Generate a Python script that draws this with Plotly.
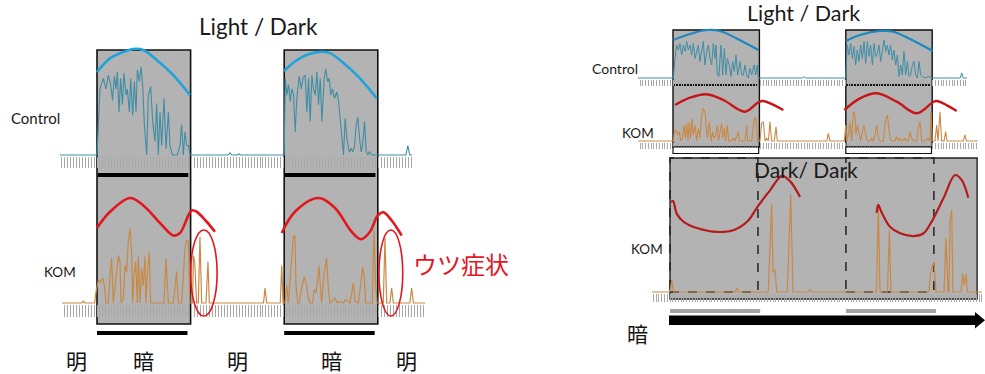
import plotly.graph_objects as go

W, H = 985, 374

# ---------------- data (hours since lights-off, activity in arbitrary units) ----------------
DARK_PERIODS = [(0, 12), (24, 36)]
DD_SPAN = (0, 41.9)

# Left panel, Control activity, dark period 1 and 2
CTRL_L_T1 = [0, 0.38, 0.81, 1.15, 1.45, 1.75, 2.0, 2.22, 2.44, 2.6, 2.82, 3.03, 3.25, 3.46, 3.72, 3.89, 4.15, 4.32, 4.57, 4.79,
             5.0, 5.17, 5.43, 5.64, 5.85, 6.07, 6.37, 6.58, 6.88, 7.14, 7.44, 7.65, 7.86, 8.08, 8.29, 8.59, 8.85, 9.15, 9.36, 9.66,
             10.0, 10.3, 10.64, 10.85, 11.07, 11.28, 11.5, 11.71, 11.92]
CTRL_L_V1 = [0, 63, 73, 63, 76, 67, 52, 75, 63, 79, 41, 73, 48, 78, 57, 63, 41, 73, 38, 70,
             41, 81, 70, 84, 67, 29, 0, 57, 65, 32, 13, 49, 0, 41, 9, 54, 6, 41, 9, 0,
             0, 0, 9, 29, 0, 22, 9, 9, 0]
CTRL_L_T2 = [24.0, 24.13, 24.34, 24.56, 24.77, 24.98, 25.2, 25.41, 25.62, 25.92, 26.18, 26.39, 26.69, 26.91, 27.12, 27.33, 27.55,
             27.76, 27.97, 28.19, 28.4, 28.62, 28.83, 29.13, 29.34, 29.56, 29.77, 29.98, 30.2, 30.45, 30.75, 30.97, 31.18, 31.39,
             31.6, 31.82, 32.03, 32.33, 32.59, 32.8, 33.02, 33.23, 33.44, 33.66, 33.87, 34.04, 34.3, 34.51, 34.73, 34.94, 35.24,
             35.67, 36.05]
CTRL_L_V2 = [0, 73, 57, 67, 51, 63, 57, 22, 54, 75, 63, 73, 76, 41, 73, 32, 76,
             63, 57, 79, 48, 73, 32, 73, 82, 70, 73, 57, 63, 54, 60, 51, 32, 16,
             0, 35, 16, 3, 6, 3, 9, 29, 36, 16, 3, 9, 32, 3, 0, 3, 0,
             0, 0]
CTRL_L_T_LIGHT = [16.8, 17.05, 17.3, 18.0, 18.2, 18.4, 39.6, 39.85, 40.1]
CTRL_L_V_LIGHT = [0, 2, 0, 0, 1, 0, 0, 9, 0]

# Left panel, KOM activity
KOM_L_T1 = [-1.95, -1.75, -1.55, -0.3, -0.13, 0.17, 0.47, 0.73, 0.94, 1.15, 1.45, 1.67, 1.88, 2.09, 2.31, 2.52, 2.74, 2.95,
            3.08, 3.38, 3.59, 3.8, 4.02, 4.23, 4.44, 4.57, 4.74, 4.96, 5.17, 5.3, 5.51, 5.73, 5.94, 6.15, 6.28, 6.45, 6.71,
            6.88, 8.59, 8.85, 9.15, 9.79, 10.0, 10.21, 10.43, 10.85, 11.07, 11.28, 11.5, 11.71, 11.92,
            12.26, 12.35, 12.52, 12.78, 12.99, 13.2, 13.42, 13.97, 14.23, 14.4]
KOM_L_V1 = [0, 1.5, 0, 0, 9, 18, 17, 20, 14, 0, 0, 22, 36, 0, 12, 25, 38, 33,
            0, 4, 30, 25, 49, 60, 41, 0, 22, 33, 0, 38, 0, 28, 14, 37, 0, 22, 41,
            0, 0, 36, 0, 0, 14, 25, 0, 0, 22, 44, 50, 49, 0,
            0, 38, 33, 0, 0, 53, 0, 0, 33, 0]
KOM_L_T2 = [21.35, 21.54, 21.75, 23.5, 23.68, 23.85, 24.1, 24.32, 24.53, 24.74, 24.96, 25.17, 25.38, 25.51, 25.73, 25.94,
            26.24, 26.58, 26.88, 27.09, 27.31, 27.61, 27.86, 28.08, 28.25, 28.46, 28.59, 28.8, 29.1, 29.32, 29.44, 29.66,
            29.87, 30.17, 30.51, 30.85, 31.15, 31.58, 31.88, 32.44, 32.65, 32.86, 33.08, 33.5, 33.85, 34.06, 34.27, 34.44,
            35.3, 35.51, 35.73, 35.9, 36.7, 36.92, 37.14, 37.56, 37.78, 37.99, 40.1, 40.34, 40.56]
KOM_L_V2 = [0, 12, 0, 0, 30, 0, 0, 14, 0, 17, 36, 53, 54, 14, 0, 0,
            12, 21, 14, 4, 0, 0, 11, 8, 17, 30, 17, 0, 22, 33, 36, 12,
            0, 1.3, 4, 0, 1.3, 0, 2.7, 0, 9, 16, 1.3, 0, 17, 29, 20, 0,
            0, 58, 14, 0, 0, 52, 0, 0, 12, 0, 0, 12, 0]

# Left panel, fitted rhythm curves (schematic)
BLUE_L_T1 = [0, 1.67, 3.37, 4.65, 5.94, 7.65, 9.78, 11.92]
BLUE_L_V1 = [79, 92, 98, 101, 100, 90.5, 76, 57]
BLUE_L_T2 = [23.97, 25.38, 27.09, 28.81, 29.87, 31.37, 33.5, 35.86]
BLUE_L_V2 = [80, 89, 96, 98.4, 97, 89, 74.6, 54]
RED_L_T1 = [0, 1.67, 4.23, 5.94, 8.08, 9.78, 10.64, 11.71, 12.14, 12.78, 14.06, 15.13]
RED_L_V1 = [60, 73, 84, 78, 64, 54, 56, 70, 74, 73, 65, 57]
RED_L_T2 = [23.68, 25.38, 28.37, 30.51, 32.65, 33.85, 35.0, 35.99, 36.71, 37.78, 39.06]
RED_L_V2 = [56, 73, 84, 76, 57, 51, 57, 70, 72.6, 66, 54]

# Right panel (LD), Control activity
CTRL_R_T1 = [0.05, 0.28, 0.51, 0.74, 0.97, 1.2, 1.44, 1.67, 1.9, 2.13, 2.36, 2.59, 2.82, 3.06, 3.29, 3.52, 3.75, 3.98, 4.21,
             4.44, 4.68, 4.91, 5.14, 5.37, 5.6, 5.83, 5.97, 6.16, 6.39, 6.53, 6.67, 6.9, 7.13, 7.36, 7.55, 7.82, 8.06, 8.29,
             8.52, 8.75, 8.98, 9.31, 9.54, 9.77, 10.0, 10.23, 10.46, 10.69, 10.93, 11.25, 11.48, 11.71, 11.85]
CTRL_R_V1 = [0, 39, 66, 56, 69, 46, 66, 53, 73, 56, 66, 46, 69, 39, 53, 66, 33, 56, 73,
             26, 53, 66, 39, 26, 69, 39, 66, 6, 3, 39, 66, 6, 59, 6, 39, 26, 3, 33,
             13, 46, 6, 33, 6, 6, 26, 6, 0, 19, 6, 26, 6, 26, 0]
CTRL_R_T2 = [23.98, 24.2, 24.44, 24.68, 24.91, 25.14, 25.37, 25.6, 25.83, 26.06, 26.3, 26.53, 26.76, 26.99, 27.22, 27.45,
             27.69, 27.92, 28.15, 28.38, 28.61, 28.84, 29.07, 29.31, 29.54, 29.77, 30.0, 30.23, 30.46, 30.69, 30.93, 31.16,
             31.39, 31.62, 31.85, 32.08, 32.31, 32.55, 32.78, 33.01, 33.24, 33.47, 33.7, 33.94, 34.17, 34.4, 34.63, 35.0,
             35.46, 36.06]
CTRL_R_V2 = [0, 66, 46, 69, 39, 63, 26, 56, 33, 66, 39, 73, 29, 73, 43, 66,
             26, 69, 43, 49, 66, 33, 59, 76, 53, 66, 46, 66, 36, 56, 26, 46,
             3, 26, 6, 53, 6, 33, 3, 6, 26, 33, 6, 0, 33, 6, 3, 0,
             3, 0]
CTRL_R_T_LIGHT = [18.0, 18.2, 18.4, 39.9, 40.1, 40.3]
CTRL_R_V_LIGHT = [0, 3, 0, 0, 10, 0]

# Right panel (LD), KOM activity
KOM_R_T1 = [0.05, 0.19, 0.42, 0.65, 0.88, 1.06, 1.3, 1.53, 1.71, 1.9, 2.08, 2.27, 2.45, 2.64, 2.82, 3.06, 3.29, 3.52, 3.75,
            3.98, 4.21, 4.44, 4.58, 4.77, 5.05, 5.28, 5.51, 5.69, 5.93, 6.16, 6.3, 6.53, 6.76, 6.9, 7.13, 7.31, 7.55, 7.73,
            8.15, 8.38, 8.61, 9.07, 9.21, 10.0, 10.23, 10.37, 10.93, 11.16, 11.39, 11.53, 11.71, 11.85, 12.08, 12.31, 12.55,
            12.78, 13.01, 13.24, 13.47, 13.7, 14.07, 14.31, 14.49]
KOM_R_V1 = [0, 17, 20, 11, 17, 0, 5, 29, 5, 32, 0, 35, 5, 41, 11, 29, 0, 23, 5,
            47, 59, 53, 29, 5, 35, 0, 17, 5, 11, 29, 0, 17, 32, 5, 23, 0, 29, 0,
            0, 5, 0, 17, 0, 0, 29, 0, 0, 29, 44, 38, 0, 0, 0, 32, 35,
            0, 5, 0, 35, 0, 0, 26, 0]
KOM_R_T2 = [21.35, 21.57, 21.8, 23.8, 23.98, 24.1, 24.35, 24.58, 24.81, 25.05, 25.28, 25.42, 25.6, 25.83, 26.06, 26.3, 26.53,
            26.76, 26.99, 27.36, 27.59, 27.82, 28.06, 28.29, 28.52, 28.75, 29.21, 29.44, 29.58, 29.77, 29.95, 30.14, 30.37,
            30.83, 31.06, 31.3, 31.53, 31.76, 32.22, 32.45, 32.69, 32.92, 33.15, 33.38, 33.84, 34.07, 34.31, 34.54, 35.0,
            35.46, 35.69, 35.83, 36.02, 36.39, 36.62, 36.81, 37.08, 37.31, 37.64, 37.87, 38.06, 40.32, 40.56, 40.74]
KOM_R_V2 = [0, 14, 0, 0, 29, 0, 11, 35, 0, 53, 47, 11, 29, 11, 0, 17, 29,
            11, 0, 0, 5, 0, 11, 29, 5, 0, 0, 29, 41, 47, 29, 5, 0,
            0, 8, 0, 5, 0, 5, 0, 0, 17, 5, 0, 0, 23, 35, 0, 0,
            5, 0, 53, 0, 0, 29, 0, 53, 0, 0, 17, 0, 0, 11, 0]

BLUE_R_T1 = [0.04, 1.9, 4.68, 6.53, 8.85, 11.85]
BLUE_R_V1 = [76, 86, 96, 94, 79, 56]
BLUE_R_T2 = [23.99, 25.97, 28.75, 30.6, 32.92, 36.07]
BLUE_R_V2 = [74, 86, 94, 92.6, 78, 54]
RED_R_T1 = [0.28, 2.36, 4.68, 6.99, 10.0, 11.85, 12.54, 15.32]
RED_R_V1 = [65.5, 78.7, 84.9, 74.5, 53.3, 70.4, 72.7, 56.4]
RED_R_T2 = [23.79, 25.97, 28.29, 31.07, 33.85, 36.07, 36.63, 39.4]
RED_R_V2 = [56.4, 77.6, 86.7, 71.5, 50.4, 70.4, 72.7, 54.5]

# Right panel (DD), KOM activity and rhythm
KOM_DD_T = [-2.46, 0.0, 0.23, 0.5, 8.9, 9.1, 9.3, 13.4, 13.87, 14.05, 14.32, 14.56, 16.0, 16.47, 16.78, 18.9, 19.1, 19.3,
            28.17, 28.42, 28.65, 29.67, 29.92, 30.15, 35.33, 35.47, 35.7, 36.0, 36.29, 37.38, 37.65, 37.93, 38.05, 38.2,
            38.43, 38.6, 39.7, 39.93, 40.15, 40.38, 40.58, 42.6]
KOM_DD_V = [0, 0, 9, 0, 0, 3, 0, 0, 67, 15, 17, 0, 0, 74, 0, 0, 2, 0,
            0, 66, 0, 0, 47, 0, 0, 11, 18, 23, 0, 0, 41, 0, 0, 54,
            62, 0, 0, 14, 5, 14, 0, 0]
RED_DD_T1 = [0.14, 0.41, 0.95, 1.91, 3.68, 6.41, 8.73, 10.64, 12.0, 13.64, 15.28, 16.37, 17.74]
RED_DD_V1 = [68, 69, 59, 53, 48.5, 45.5, 47, 54, 65, 77, 88, 84, 72]
RED_DD_T2 = [28.2, 28.4, 28.9, 30.0, 31.4, 33.2, 34.6, 35.7, 37.3, 38.9, 39.8, 40.7]
RED_DD_V2 = [60, 66, 60, 49.5, 44.5, 42.4, 44.5, 53.3, 71, 88.6, 84.8, 71.4]

LD_LABELS = ["明", "暗", "明", "暗", "明"]
LD_LABEL_T = [-2.6, 6, 18, 30, 39.7]

# ---------------- styling ----------------
GRAY = "#b3b3b3"
TEAL = "#3f8ea6"
BLUE_L, BLUE_R = "#1fa3dc", "#1c88c0"
RED_L, RED_R, RED_DD = "#e3171e", "#c8151a", "#b51a1d"
ORANGE = "#c98945"
TICK = "#a8a8a8"
LATIN = "Lato, 'Open Sans', sans-serif"
CJK = "'Noto Sans CJK JP', sans-serif"


def px_x(px):
    return px / W


def px_y(py):
    return 1 - py / H


def xaxis(left, right, t0, pxh, ticklen):
    return dict(domain=[left / W, right / W], range=[(left - t0) / pxh, (right - t0) / pxh],
                showgrid=False, zeroline=False, showline=False, showticklabels=False,
                ticks="outside", ticklen=ticklen, tickwidth=1, tickcolor=TICK, tick0=0, dtick=0.38,
                fixedrange=True)


def yaxis(top, base, unit):
    return dict(domain=[1 - (base + 1) / H, 1 - top / H], range=[-1 / unit, (base - top) / unit],
                visible=False, fixedrange=True)


fig = go.Figure()


def line(t, v, xa, ya, color, width, spline=False):
    fig.add_trace(go.Scatter(x=t, y=v, xaxis=xa, yaxis=ya, mode="lines", hoverinfo="skip",
                             line=dict(color=color, width=width, shape="spline" if spline else "linear",
                                       smoothing=1.0)))


# Left panel
xl = xaxis(60, 412, 97, 7.8, 11)
line([xl["range"][0]] + CTRL_L_T1 + CTRL_L_T_LIGHT[:6] + CTRL_L_T2 + CTRL_L_T_LIGHT[6:] + [xl["range"][1]],
     [0] + CTRL_L_V1 + CTRL_L_V_LIGHT[:6] + CTRL_L_V2 + CTRL_L_V_LIGHT[6:] + [0], "x", "y", TEAL, 1.1)
line(BLUE_L_T1, BLUE_L_V1, "x", "y", BLUE_L, 2.6, True)
line(BLUE_L_T2, BLUE_L_V2, "x", "y", BLUE_L, 2.6, True)

xk = xaxis(62, 425, 97, 7.8, 12)
line([xk["range"][0]] + KOM_L_T1 + KOM_L_T2 + [xk["range"][1]], [0] + KOM_L_V1 + KOM_L_V2 + [0],
     "x2", "y2", ORANGE, 1.2)
line(RED_L_T1, RED_L_V1, "x2", "y2", RED_L, 2.6, True)
line(RED_L_T2, RED_L_V2, "x2", "y2", RED_L, 2.6, True)

# Right panel LD
xr = xaxis(638, 967, 673, 7.2, 6)
line([xr["range"][0]] + CTRL_R_T1 + CTRL_R_T_LIGHT[:3] + CTRL_R_T2 + CTRL_R_T_LIGHT[3:] + [xr["range"][1]],
     [0] + CTRL_R_V1 + CTRL_R_V_LIGHT[:3] + CTRL_R_V2 + CTRL_R_V_LIGHT[3:] + [0], "x3", "y3", TEAL, 1.0)
line(BLUE_R_T1, BLUE_R_V1, "x3", "y3", BLUE_R, 2.2, True)
line(BLUE_R_T2, BLUE_R_V2, "x3", "y3", BLUE_R, 2.2, True)

xrk = xaxis(638, 978, 673, 7.2, 6)
line([xrk["range"][0]] + KOM_R_T1 + KOM_R_T2 + [xrk["range"][1]], [0] + KOM_R_V1 + KOM_R_V2 + [0],
     "x4", "y4", ORANGE, 1.1)
line(RED_R_T1, RED_R_V1, "x4", "y4", RED_R, 2.4, True)
line(RED_R_T2, RED_R_V2, "x4", "y4", RED_R, 2.4, True)

# Right panel DD
xd = xaxis(652, 982, 670, 7.33, 8)
line(KOM_DD_T, KOM_DD_V, "x5", "y5", ORANGE, 1.2)
line(RED_DD_T1, RED_DD_V1, "x5", "y5", RED_DD, 2.2, True)
line(RED_DD_T2, RED_DD_V2, "x5", "y5", RED_DD, 2.2, True)

shapes = []
# Left dark boxes, separators and bars
for a, b in DARK_PERIODS:
    shapes.append(dict(type="rect", xref="x", yref="paper", x0=a, x1=b, y0=px_y(324), y1=px_y(50),
                       fillcolor=GRAY, line=dict(color="#111", width=1.6), layer="below"))
    shapes.append(dict(type="rect", xref="x", yref="paper", x0=a + 0.1, x1=b - 0.3, y0=px_y(177), y1=px_y(173),
                       fillcolor="#000", line=dict(width=0), layer="below"))
    shapes.append(dict(type="rect", xref="x", yref="paper", x0=a, x1=b - 0.4, y0=px_y(335), y1=px_y(331),
                       fillcolor="#000", line=dict(width=0)))
# Right LD dark boxes
for a, b in DARK_PERIODS:
    shapes.append(dict(type="rect", xref="x3", yref="paper", x0=a, x1=b, y0=px_y(147), y1=px_y(30),
                       fillcolor=GRAY, line=dict(color="#111", width=1.4), layer="below"))
    shapes.append(dict(type="line", xref="x3", yref="paper", x0=a, x1=b - 0.2, y0=px_y(85), y1=px_y(85),
                       line=dict(color="#111", width=2), layer="below"))
    shapes.append(dict(type="rect", xref="x3", yref="paper", x0=a, x1=b - 0.1, y0=px_y(153.5), y1=px_y(147),
                       fillcolor="#fff", line=dict(color="#111", width=1.2)))
# DD box
shapes.append(dict(type="rect", xref="x5", yref="paper", x0=DD_SPAN[0], x1=DD_SPAN[1], y0=px_y(299), y1=px_y(158),
                   fillcolor=GRAY, line=dict(color="#222", width=1.4), layer="below"))
for a, b in DARK_PERIODS:
    shapes.append(dict(type="rect", xref="x5", yref="paper", x0=a, x1=b, y0=px_y(292), y1=px_y(158),
                       line=dict(color="#222", width=1.5, dash="dash"), layer="below"))
    shapes.append(dict(type="rect", xref="x5", yref="paper", x0=a, x1=b + 0.3, y0=px_y(313), y1=px_y(309),
                       fillcolor="#a4a4a4", line=dict(width=0)))
# Arrow (constant darkness)
shapes.append(dict(type="rect", xref="paper", yref="paper", x0=px_x(669), x1=px_x(976), y0=px_y(325), y1=px_y(315.5),
                   fillcolor="#000", line=dict(width=0)))
shapes.append(dict(type="path", xref="paper", yref="paper",
                   path=f"M {px_x(975)} {px_y(312)} L {px_x(985)} {px_y(320.3)} L {px_x(975)} {px_y(328.5)} Z",
                   fillcolor="#000", line=dict(width=0)))
# Ellipses highlighting depression-like activity
for a, b in [(12.0, 15.4), (36.15, 39.2)]:
    shapes.append(dict(type="circle", xref="x2", yref="paper", x0=a, x1=b, y0=px_y(316), y1=px_y(230),
                       line=dict(color=RED_L, width=1.6)))

annotations = []


def text(px, py, s, size, color="#1a1a1a", family=LATIN, xref="paper", x=None):
    annotations.append(dict(x=px_x(px) if x is None else x, y=px_y(py), xref=xref, yref="paper", text=s,
                            showarrow=False, xanchor="center", yanchor="middle",
                            font=dict(size=size, color=color, family=family)))


text(258, 26, "Light / Dark", 22.5)
text(35, 118, "Control", 15)
text(60, 272, "KOM", 13.5)
text(461, 263, "ウツ症状", 24, color=RED_L, family=CJK)
for s, t in zip(LD_LABELS, LD_LABEL_T):
    text(0, 360, s, 21, color="#111", family=CJK, xref="x", x=t)
text(803, 13, "Light / Dark", 21.5)
text(615, 68, "Control", 14)
text(638, 133, "KOM", 13.5)
text(806, 169, "Dark/ Dark", 21)
text(647, 249, "KOM", 13.5)
text(637, 333, "暗", 21, color="#111", family=CJK)

fig.update_layout(
    width=W, height=H, margin=dict(l=0, r=0, t=0, b=0), autosize=False,
    paper_bgcolor="white", plot_bgcolor="rgba(0,0,0,0)", showlegend=False, hovermode=False,
    xaxis=dict(xl, anchor="y"), yaxis=yaxis(46, 155, 1.05),
    xaxis2=dict(xk, anchor="y2"), yaxis2=yaxis(178, 303, 1.25),
    xaxis3=dict(xr, anchor="y3"), yaxis3=yaxis(28, 78, 0.5),
    xaxis4=dict(xrk, anchor="y4"), yaxis4=yaxis(86, 141, 0.55),
    xaxis5=dict(xd, anchor="y5"), yaxis5=yaxis(160, 292, 1.32),
    shapes=shapes, annotations=annotations,
)

fig.write_html("out.html", config={"displayModeBar": False},
               post_script="document.body.style.margin='0px';document.body.style.overflow='hidden';")
